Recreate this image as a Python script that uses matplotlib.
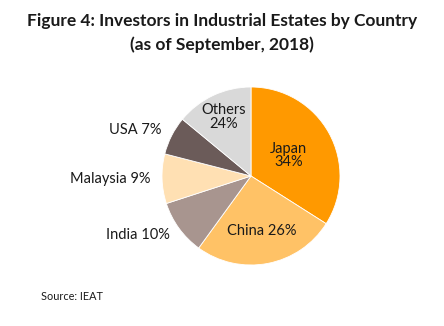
import matplotlib
matplotlib.use("Agg")
import matplotlib.pyplot as plt
import numpy as np

countries = ["Japan", "China", "India", "Malaysia", "USA", "Others"]
# wedge sizes as drawn in the picture
shares = [34, 26, 10, 9, 7, 14]
# percentages as printed on the chart labels
label_pcts = ["34%", "26%", "10%", "9%", "7%", "24%"]
colors = ["#FF9900", "#FFC266", "#A8958F", "#FFE0B3", "#6B5B59", "#D9D9D9"]

W, H = 444, 326
fig = plt.figure(figsize=(W / 100, H / 100), dpi=100)
plt.rcParams['font.family'] = ['Lato', 'DejaVu Sans']

cx, cy, R = 251, 176, 89
ax = fig.add_axes([(cx - R) / W, (H - cy - R) / H, 2 * R / W, 2 * R / H])
wedges, _ = ax.pie(shares, colors=colors, startangle=90, counterclock=False,
                   radius=1.0, wedgeprops=dict(edgecolor="white", linewidth=0.6))
ax.set_xlim(-1, 1)
ax.set_ylim(-1, 1)
ax.set_aspect("equal")
ax.axis("off")

inside = {"Japan": (0.48, True), "China": (0.63, False), "Others": (0.73, True)}
for w, name, pct in zip(wedges, countries, label_pcts):
    mid = np.deg2rad((w.theta1 + w.theta2) / 2)
    if name in inside:
        r, two_lines = inside[name]
        txt = f"{name}\n{pct}" if two_lines else f"{name} {pct}"
        ax.text(r * np.cos(mid), r * np.sin(mid), txt, ha="center", va="center",
                fontsize=10.5, color="#1a1a1a", linespacing=0.95)
    else:
        r = 1.13
        ax.text(r * np.cos(mid), r * np.sin(mid), f"{name} {pct}", ha="right",
                va="center", fontsize=10.5, color="#1a1a1a")

fig.text(0.5, 1 - 21 / H, "Figure 4: Investors in Industrial Estates by Country",
         ha="center", va="center", fontsize=12.5, fontweight="bold", color="#1a1a1a")
fig.text(0.5, 1 - 45 / H, "(as of September, 2018)",
         ha="center", va="center", fontsize=12.5, fontweight="bold", color="#1a1a1a")
fig.text(41 / W, 1 - 297 / H, "Source: IEAT", ha="left", va="center",
         fontsize=7.8, color="#1a1a1a")

fig.savefig("out.png", dpi=100)
